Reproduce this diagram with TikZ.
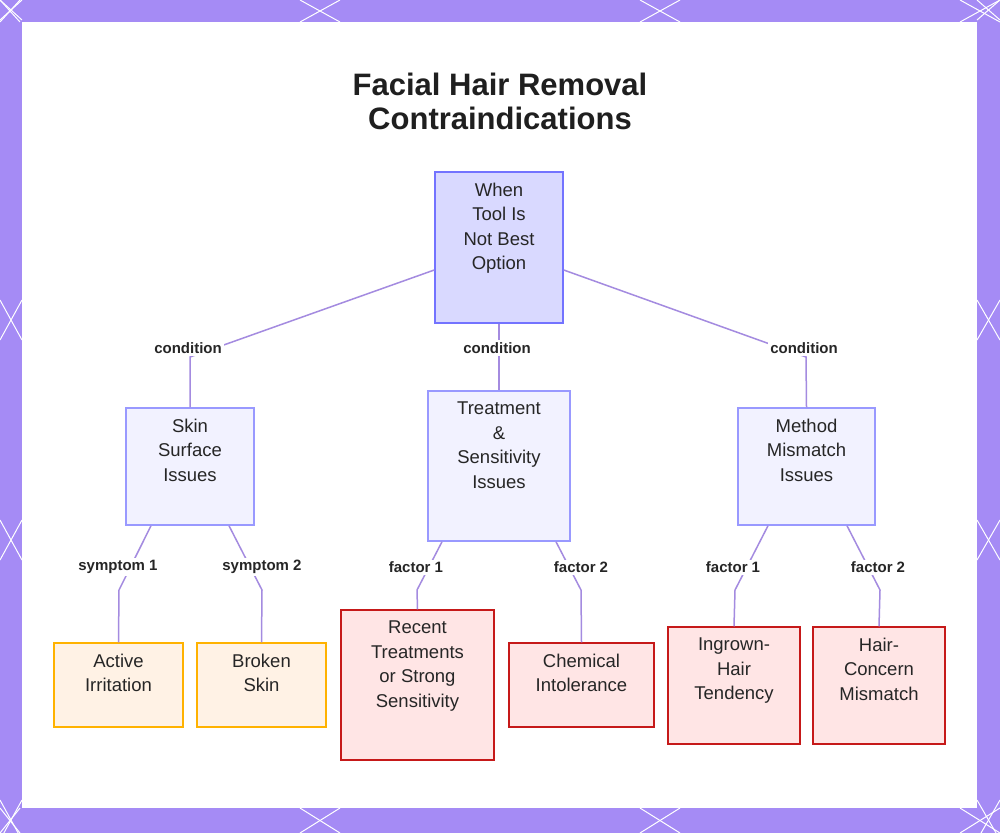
\documentclass[tikz,border=0pt]{standalone}
\usepackage{fontspec}
\setmainfont{Liberation Sans}
\begin{document}
\begin{tikzpicture}[x=1pt,y=-1pt,
 box/.style={draw,line width=1.5pt,inner sep=0pt},
 txt/.style={anchor=north,align=center,font=\fontsize{18.5}{24.5}\selectfont,text=black!85,inner sep=0pt},
 lvl1/.style={box,fill=blue!5,draw=blue!40!white},
 amber/.style={box,fill=orange!10,draw=orange!60!yellow},
 red/.style={box,fill=red!10,draw=red!75!black!90!white},
 edge/.style={draw=lav,line width=1.5pt},
 lab/.style={fill=white,font=\bfseries\fontsize{15}{18}\selectfont,text=black!85,inner sep=2pt}]
\definecolor{frame}{HTML}{A58BF5}
\definecolor{lav}{HTML}{A48BE0}
\useasboundingbox (0,0) rectangle (1000,833);
\fill[frame] (0,0) rectangle (1000,833);
\begin{scope}
\clip (0,0) rectangle (1000,833);
\foreach \a/\b in {0/20,300/340,640/680,960/1000}{\draw[white,line width=1pt] (\a,0)--(\b,22);\draw[white,line width=1pt] (\b,0)--(\a,22);
 \draw[white,line width=1pt] (\a,808)--(\b,833);\draw[white,line width=1pt] (\b,808)--(\a,833);}
\foreach \a/\b in {0/20,300/340,520/560,800/840}{\draw[white,line width=1pt] (0,\a)--(22,\b);\draw[white,line width=1pt] (0,\b)--(22,\a);
 \draw[white,line width=1pt] (977,\a)--(1000,\b);\draw[white,line width=1pt] (977,\b)--(1000,\a);}
\end{scope}
\fill[white] (22,22) rectangle (977,808);
\node[font=\bfseries\fontsize{31}{34}\selectfont,text=black!88,align=center] (title) at (500,101) {Facial Hair Removal\\Contraindications};
\node[box,fill=blue!15,draw=blue!55!white,minimum width=128,minimum height=151] (root) at (499,247.5) {};
\node[lvl1,minimum width=128,minimum height=117] (skin) at (190,466.5) {};
\node[lvl1,minimum width=142,minimum height=150] (treat) at (499,466) {};
\node[lvl1,minimum width=137,minimum height=117] (meth) at (806.5,466.5) {};
\node[amber,minimum width=129,minimum height=84] (act) at (118.5,685) {};
\node[amber,minimum width=129,minimum height=84] (brok) at (261.5,685) {};
\node[red,minimum width=153,minimum height=150] (rec) at (417.5,685) {};
\node[red,minimum width=145,minimum height=84] (chem) at (581.5,685) {};
\node[red,minimum width=132,minimum height=117] (ing) at (734,685.5) {};
\node[red,minimum width=132,minimum height=117] (hair) at (879,685.5) {};
\foreach \n/\t in {root/{When\\Tool Is\\Not Best\\Option},skin/{Skin\\Surface\\Issues},treat/{Treatment\\\&\\Sensitivity\\Issues},meth/{Method\\Mismatch\\Issues},act/{Active\\Irritation},brok/{Broken\\Skin},rec/{Recent\\Treatments\\or Strong\\Sensitivity},chem/{Chemical\\Intolerance},ing/{Ingrown-\\Hair\\Tendency},hair/{Hair-\\Concern\\Mismatch}}
  \node[txt] (\n-t) at ([yshift=-11.5pt]\n.north) {\t};
\coordinate (c1) at (190,357);\coordinate (c3) at (806,357);
\draw[edge] (root.west|-0,270) -- (c1) -- (skin.north);
\draw[edge] (root.south) -- (treat.north);
\draw[edge] (root.east|-0,270) -- (c3) -- (meth.north);
\node[lab] at (188,348) {condition};
\node[lab] at (497,348) {condition};
\node[lab] at (804,348) {condition};
\coordinate (s1) at (119,590);\coordinate (s2) at (262,590);
\coordinate (f1) at (417,590);\coordinate (f2) at (581,590);
\coordinate (g1) at (735,590);\coordinate (g2) at (880,590);
\draw[edge] (skin.south-|151,0) -- (s1) -- (act.north);
\draw[edge] (skin.south-|229,0) -- (s2) -- (brok.north);
\draw[edge] (treat.south-|442,0) -- (f1) -- (rec.north);
\draw[edge] (treat.south-|556,0) -- (f2) -- (chem.north);
\draw[edge] (meth.south-|768,0) -- (g1) -- (ing.north);
\draw[edge] (meth.south-|847,0) -- (g2) -- (hair.north);
\node[lab] at (118,567) {symptom 1};
\node[lab] at (262,567) {symptom 2};
\node[lab] at (416,567) {factor 1};
\node[lab] at (581,567) {factor 2};
\node[lab] at (733,567) {factor 1};
\node[lab] at (878,567) {factor 2};
\end{tikzpicture}
\end{document}
